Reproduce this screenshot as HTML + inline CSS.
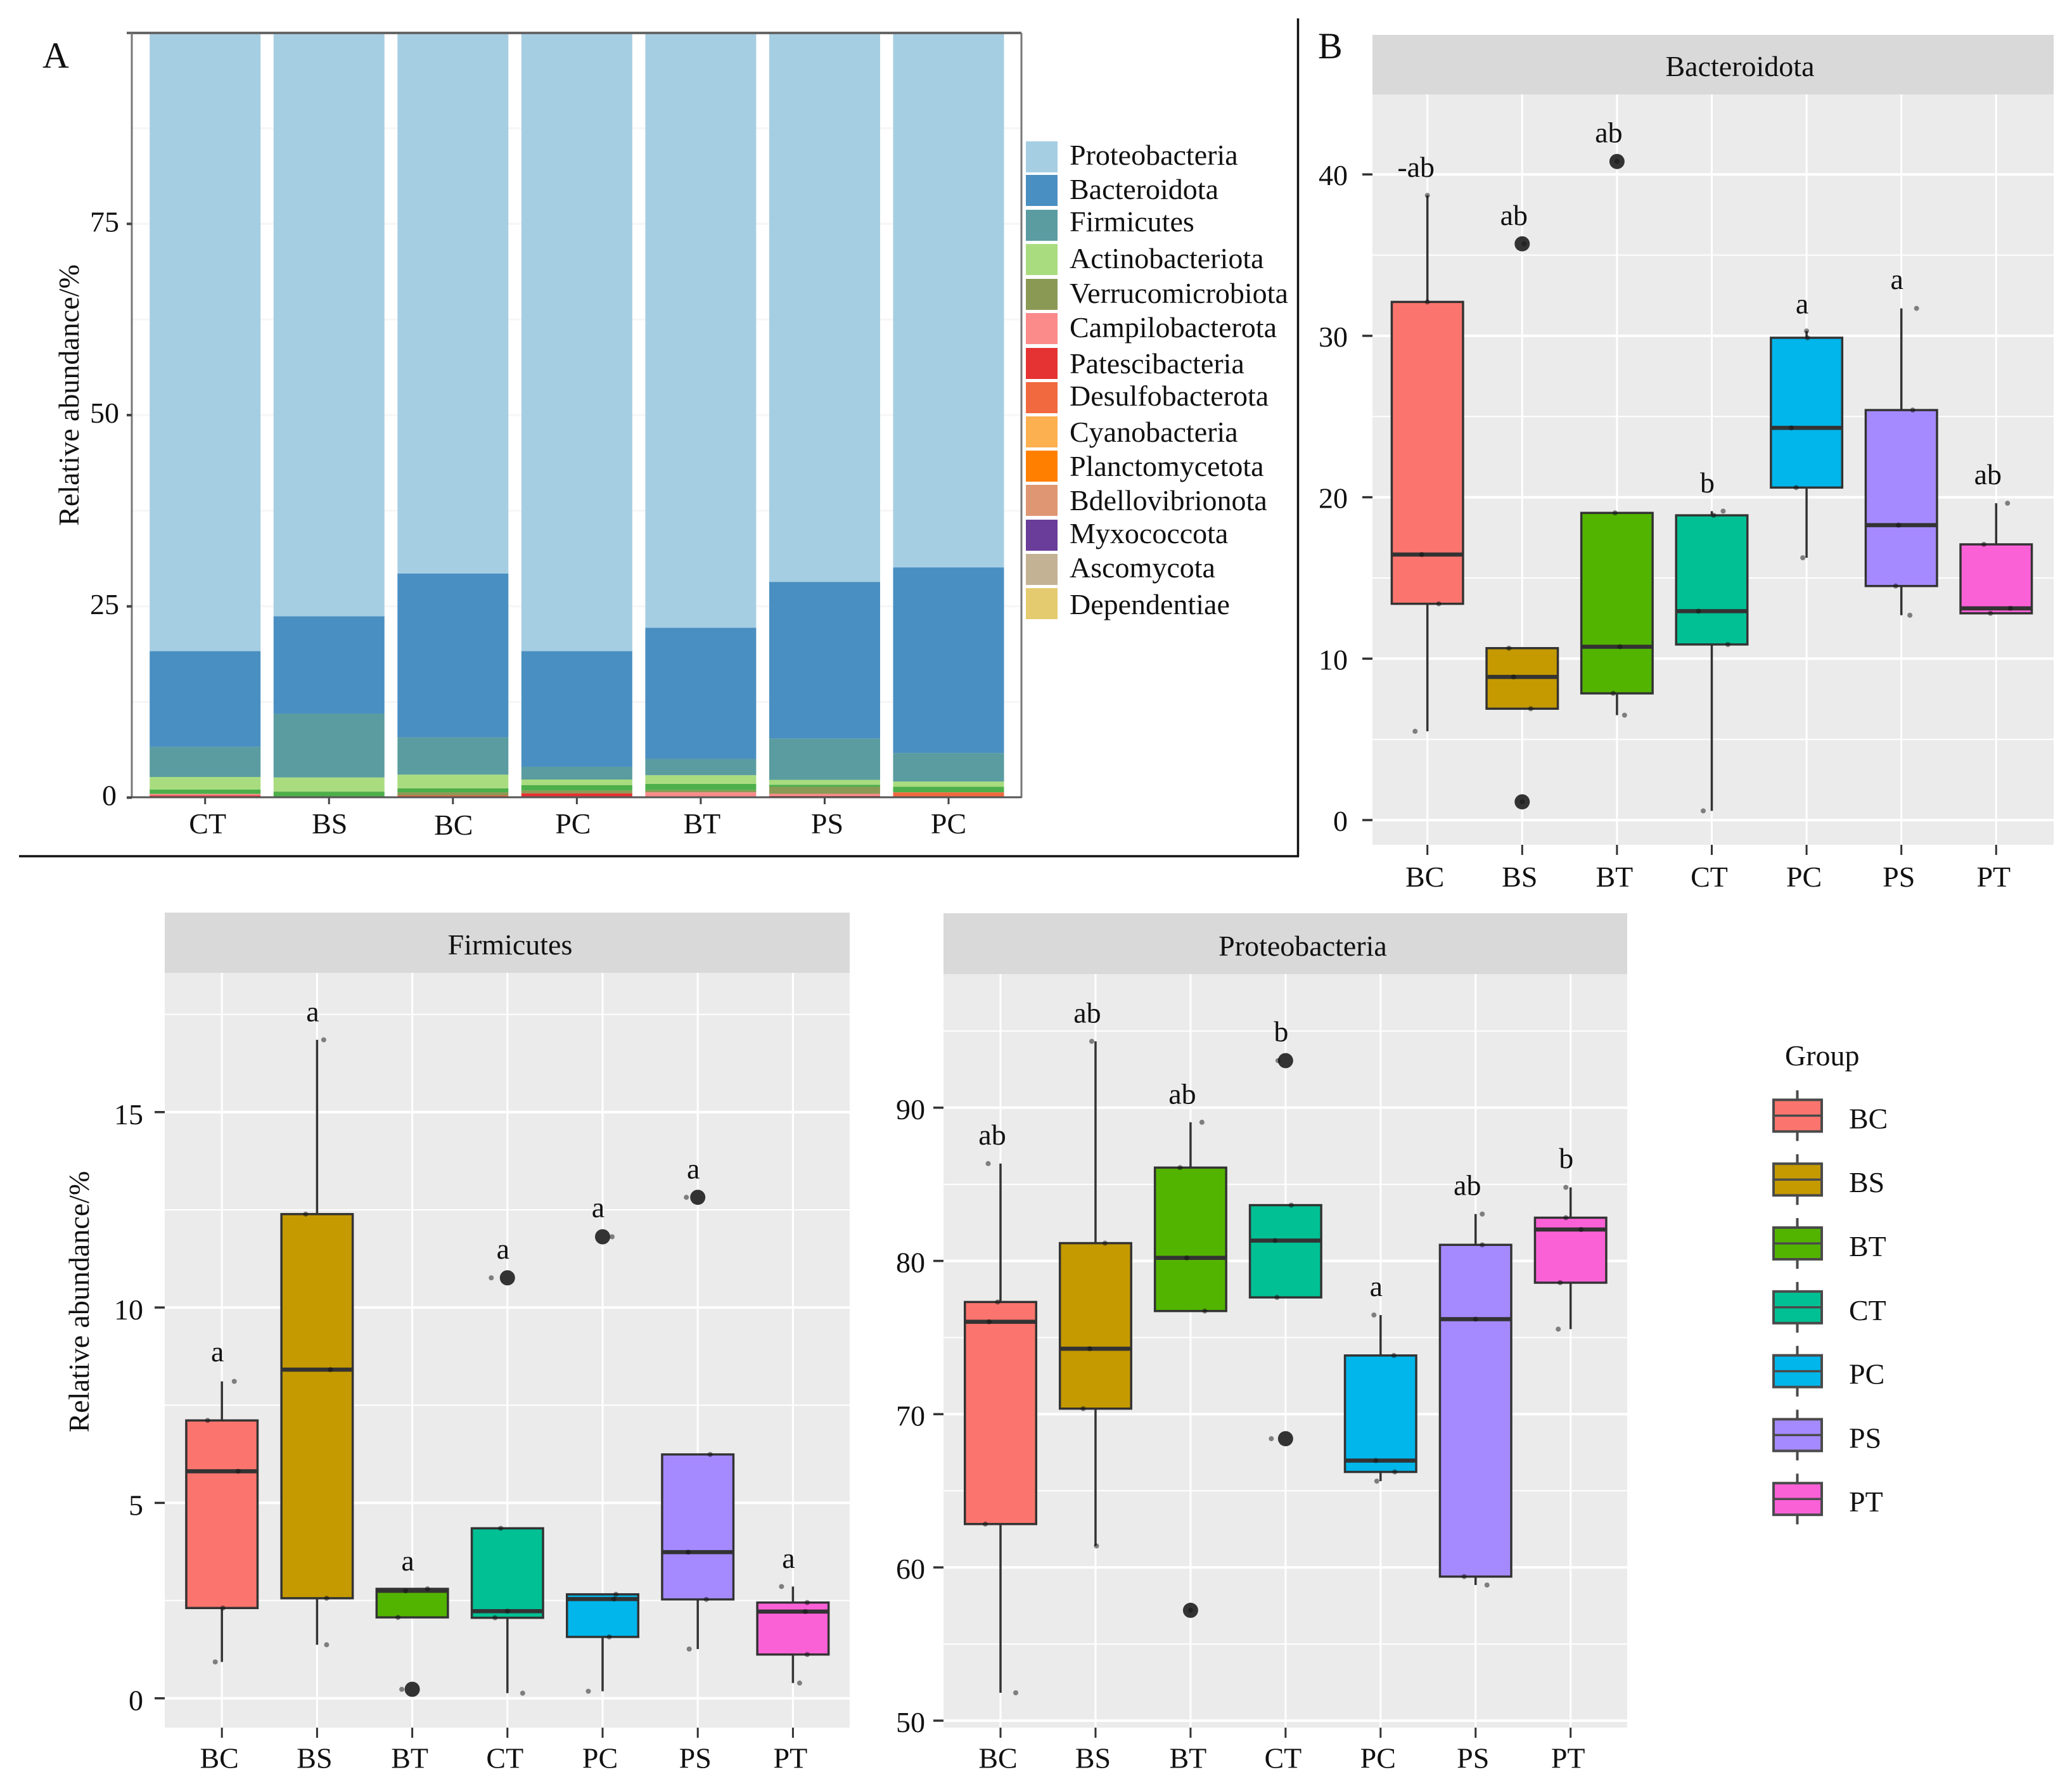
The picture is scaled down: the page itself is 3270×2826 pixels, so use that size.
<!DOCTYPE html>
<html lang="en">
<head>
<meta charset="utf-8">
<title>Relative abundance of bacterial phyla by group</title>
<style>
html,body{margin:0;padding:0;background:#fff;}
#figure{display:block;width:3270px;height:2826px;}
text{font-family:"Liberation Serif",serif;font-size:46px;fill:#111;}
</style>
</head>
<body>
<svg id="figure" xmlns="http://www.w3.org/2000/svg" width="3270" height="2826" viewBox="0 0 3270 2826">
  <rect width="3270" height="2826" fill="#ffffff"/>
  <g id="panel-a"></g>
  <g id="panel-b"></g>
  <g id="panel-f"></g>
  <g id="panel-p"></g>

  <line x1="30" y1="1351" x2="2050" y2="1351" stroke="#111" stroke-width="3.5"/>
  <line x1="2048.5" y1="29" x2="2048.5" y2="1352" stroke="#111" stroke-width="3.5"/>

  <text x="67" y="107" style="font-size:58px">A</text>
  <text x="2080" y="92" style="font-size:58px">B</text>

  <text transform="translate(124,623.5) rotate(-90)" text-anchor="middle">Relative abundance/%</text>
  <text transform="translate(140,2054) rotate(-90)" text-anchor="middle">Relative abundance/%</text>

  <g>
    <rect x="1619" y="223" width="50" height="49" fill="#a6cee3"/>
    <text x="1688" y="260">Proteobacteria</text>
    <rect x="1619" y="276" width="50" height="49" fill="#4a8fc1"/>
    <text x="1688" y="314">Bacteroidota</text>
    <rect x="1619" y="331" width="50" height="49" fill="#5a9ca0"/>
    <text x="1688" y="365">Firmicutes</text>
    <rect x="1619" y="385" width="50" height="49" fill="#a9dc7f"/>
    <text x="1688" y="423">Actinobacteriota</text>
    <rect x="1619" y="440" width="50" height="49" fill="#8a9a55"/>
    <text x="1688" y="478">Verrucomicrobiota</text>
    <rect x="1619" y="494" width="50" height="49" fill="#fb8a8a"/>
    <text x="1688" y="532">Campilobacterota</text>
    <rect x="1619" y="549" width="50" height="49" fill="#e53232"/>
    <text x="1688" y="589">Patescibacteria</text>
    <rect x="1619" y="603" width="50" height="49" fill="#f0693f"/>
    <text x="1688" y="640">Desulfobacterota</text>
    <rect x="1619" y="657" width="50" height="49" fill="#fdb050"/>
    <text x="1688" y="697">Cyanobacteria</text>
    <rect x="1619" y="711" width="50" height="49" fill="#ff8000"/>
    <text x="1688" y="751">Planctomycetota</text>
    <rect x="1619" y="765" width="50" height="49" fill="#df9673"/>
    <text x="1688" y="805">Bdellovibrionota</text>
    <rect x="1619" y="820" width="50" height="49" fill="#6a3d9a"/>
    <text x="1688" y="857">Myxococcota</text>
    <rect x="1619" y="874" width="50" height="49" fill="#c4b295"/>
    <text x="1688" y="911">Ascomycota</text>
    <rect x="1619" y="928" width="50" height="49" fill="#e5cb6f"/>
    <text x="1688" y="969">Dependentiae</text>
  </g>

  <text x="2817" y="1681">Group</text>
  <g id="group-legend"></g>
</svg>

<script>
// ---------- shared categories ----------
const categories = ['BC', 'BS', 'BT', 'CT', 'PC', 'PS', 'PT'];

// ---------- panel A: stacked bars ----------
const sampleLabels = ['CT', 'BS', 'BC', 'PC', 'BT', 'PS', 'PC'];
const stackTicks = [0, 25, 50, 75];
const proteobacteria = [80.85, 76.3, 70.7, 80.85, 77.8, 71.8, 69.9];
const bacteroidota = [12.51, 12.72, 21.42, 15.13, 17.15, 20.47, 24.27];
const firmicutes = [3.95, 8.35, 4.88, 1.66, 2.12, 5.41, 3.73];
const actinobacteriota = [1.63, 1.85, 1.78, 0.72, 1.13, 0.64, 0.69];
const unlabeledGreen = [0.58, 0.78, 0.52, 0.71, 0.83, 0.27, 0.72];
const verrucomicrobiota = [0, 0, 0.41, 0.37, 0.28, 0.91, 0];
const campilobacterota = [0.2, 0, 0, 0, 0.69, 0.28, 0];
const patescibacteria = [0.28, 0, 0, 0.56, 0, 0.22, 0];
const desulfobacterota = [0, 0, 0.29, 0, 0, 0, 0.69];

// ---------- Bacteroidota ----------
const bactTicks = [0, 10, 20, 30, 40];
const bactMinor = [5, 15, 25, 35];
const bactQ1 = [13.4, 6.9, 7.85, 10.88, 20.6, 14.5, 12.81];
const bactMedian = [16.45, 8.87, 10.74, 12.94, 24.3, 18.27, 13.12];
const bactQ3 = [32.1, 10.65, 19.03, 18.88, 29.88, 25.4, 17.08];
const bactLow = [5.5, null, 6.5, 0.57, 16.25, 12.69, null];
const bactHigh = [38.7, null, null, 19.14, 30.3, 31.7, 19.63];
const bactOutliers = [[], [35.7, 1.13], [40.8], [], [], [], []];
const bactPoints = [[38.7, 32.1, 16.45, 13.4, 5.5], [35.7, 10.65, 8.87, 6.9, 1.13], [40.8, 19.03, 10.74, 7.85, 6.5], [19.14, 18.88, 12.94, 10.88, 0.57], [30.3, 29.88, 24.3, 20.6, 16.25], [31.7, 25.4, 18.27, 14.5, 12.69], [19.63, 17.08, 13.12, 12.81]];
const bactJitter = [[0, 0, -0.06, 0.12, -0.13], [0.02, -0.14, -0.09, 0.09, 0], [0, -0.02, 0.03, -0.04, 0.08], [0.12, 0.02, -0.14, 0.17, -0.09], [0, 0.01, -0.16, -0.11, -0.04], [0.16, 0.12, -0.03, -0.06, 0.09], [0.12, -0.13, 0.15, -0.06]];
const bactLetters = ['-ab', 'ab', 'ab', 'b', 'a', 'a', 'ab'];
const bactLetterValues = [39.85, 36.87, 41.99, 20.3, 31.39, 32.9, 20.8];

// ---------- Firmicutes ----------
const firmTicks = [0, 5, 10, 15];
const firmMinor = [2.5, 7.5, 12.5, 17.5];
const firmQ1 = [2.31, 2.56, 2.07, 2.06, 1.57, 2.53, 1.12];
const firmMedian = [5.81, 8.41, 2.75, 2.23, 2.54, 3.74, 2.22];
const firmQ3 = [7.11, 12.39, 2.8, 4.35, 2.66, 6.24, 2.45];
const firmLow = [0.93, 1.37, null, 0.13, 0.18, 1.26, 0.39];
const firmHigh = [8.11, 16.85, null, null, null, null, 2.86];
const firmOutliers = [[], [], [0.23], [10.76], [11.81], [12.82], []];
const firmPoints = [[8.11, 7.11, 5.81, 2.31, 0.93], [16.85, 12.39, 8.41, 2.56, 1.37], [2.8, 2.75, 2.07, 0.23], [10.76, 4.35, 2.23, 2.06, 0.13], [11.81, 2.66, 2.54, 1.57, 0.18], [12.82, 6.24, 3.74, 2.53, 1.26], [2.86, 2.45, 2.22, 1.12, 0.39]];
const firmJitter = [[0.13, -0.15, 0.17, 0.01, -0.07], [0.07, -0.12, 0.14, 0.1, 0.1], [0.16, -0.07, -0.15, -0.11], [-0.17, -0.07, 0, -0.13, 0.16], [0.1, 0.14, 0.12, 0.07, -0.15], [-0.12, 0.13, -0.1, 0.09, -0.09], [-0.12, 0.15, 0.13, 0.15, 0.07]];
const firmLetters = ['a', 'a', 'a', 'a', 'a', 'a', 'a'];
const firmLetterValues = [8.62, 17.32, 3.27, 11.25, 12.31, 13.3, 3.34];

// ---------- Proteobacteria ----------
const protTicks = [50, 60, 70, 80, 90];
const protMinor = [55, 65, 75, 85, 95];
const protQ1 = [62.83, 70.36, 76.73, 77.62, 66.23, 59.4, 78.58];
const protMedian = [76.03, 74.27, 80.2, 81.33, 66.97, 76.2, 82.05];
const protQ3 = [77.32, 81.16, 86.09, 83.64, 73.83, 81.05, 82.82];
const protLow = [51.82, 61.4, null, null, 65.63, 58.85, 75.55];
const protHigh = [86.35, 94.33, 89.05, null, 76.47, 83.06, 84.8];
const protOutliers = [[], [], [57.2], [93.07, 68.4], [], [], []];
const protPoints = [[86.35, 77.32, 76.03, 62.83, 51.82], [94.33, 81.16, 74.27, 70.36, 61.4], [89.05, 86.09, 80.2, 76.73, 57.2], [93.07, 83.64, 81.33, 77.62, 68.4], [76.47, 73.83, 66.97, 66.23, 65.63], [83.06, 81.05, 76.2, 59.4, 58.85], [84.8, 82.82, 82.05, 78.58, 75.55]];
const protJitter = [[-0.13, -0.03, -0.12, -0.16, 0.16], [-0.04, 0.1, -0.06, -0.13, 0.01], [0.12, -0.11, -0.04, 0.15, 0], [-0.08, 0.06, -0.11, -0.09, -0.15], [-0.07, 0.14, -0.05, 0.15, -0.04], [0.07, 0.07, 0, -0.12, 0.12], [-0.05, -0.05, 0.11, -0.11, -0.13]];
const protLetters = ['ab', 'ab', 'ab', 'b', 'a', 'ab', 'b'];
const protLetterValues = [87.59, 95.56, 90.27, 94.33, 77.71, 84.3, 86.06];

// ---------- drawing ----------
const NS = 'http://www.w3.org/2000/svg';
const groupColor = {BC: '#fb756e', BS: '#c49a00', BT: '#53b400', CT: '#00c094', PC: '#00b6eb', PS: '#a58aff', PT: '#fb61d7'};

function make(tag, parent, attrs, content) {
  const node = document.createElementNS(NS, tag);
  for (const key in attrs) node.setAttribute(key, attrs[key]);
  if (content !== undefined) node.textContent = content;
  parent.appendChild(node);
  return node;
}

function drawStackedBars() {
  const root = document.getElementById('panel-a');
  const yOf = v => 1258.5 - v * 12.07;
  const xOf = i => 323.7 + i * 195.55;
  const barWidth = 175;
  for (let v = 12.5; v < 100; v += 12.5) {
    const grid = make('line', root, {x1: 208, x2: 1612, y1: yOf(v), y2: yOf(v), stroke: '#f6f6f6', 'stroke-width': 3});
    
    
  }
  const stack = [
    ['desulfobacterota', desulfobacterota, '#f0693f'],
    ['patescibacteria', patescibacteria, '#e53232'],
    ['campilobacterota', campilobacterota, '#fb8a8a'],
    ['verrucomicrobiota', verrucomicrobiota, '#8a9a55'],
    ['green-group', unlabeledGreen, '#4daf4a'],
    ['actinobacteriota', actinobacteriota, '#a9dc7f'],
    ['firmicutes', firmicutes, '#5a9ca0'],
    ['bacteroidota', bacteroidota, '#4a8fc1'],
    ['proteobacteria', proteobacteria, '#a6cee3']
  ];
  sampleLabels.forEach((label, i) => {
    let base = 0;
    stack.forEach(layer => {
      const value = layer[1][i];
      if (value > 0) {
        const seg = make('rect', root, {x: xOf(i) - barWidth / 2, width: barWidth, y: yOf(base + value), height: yOf(base) - yOf(base + value), fill: layer[2]});
        
        
      }
      base += value;
    });
    const tick = make('line', root, {x1: xOf(i), x2: xOf(i), y1: 1258, y2: 1269, stroke: '#444', 'stroke-width': 3});
    
    
    const shift = [4, 1, 1, -6, 2, 4, 0][i];
    const text = make('text', root, {x: xOf(i) + shift, y: i === 2 ? 1317 : 1315, 'text-anchor': 'middle'}, label);
    
    
  });
  const axisTop = make('line', root, {x1: 200, x2: 1612, y1: 52, y2: 52, stroke: '#666', 'stroke-width': 4});
  
  
  const axisLeft = make('line', root, {x1: 208, x2: 208, y1: 52, y2: 1259, stroke: '#777', 'stroke-width': 3});
  
  
  const axisRight = make('line', root, {x1: 1612, x2: 1612, y1: 52, y2: 1259, stroke: '#777', 'stroke-width': 3});
  
  
  const axisBottom = make('line', root, {x1: 200, x2: 1612, y1: 1258, y2: 1258, stroke: '#555', 'stroke-width': 3});
  
  
  stackTicks.forEach(v => {
    const tick = make('line', root, {x1: 200, x2: 208, y1: yOf(v), y2: yOf(v), stroke: '#444', 'stroke-width': 4});
    
    
    const text = make('text', root, {x: v === 0 ? 184 : 188, y: yOf(v) + 12, 'text-anchor': 'end'}, String(v));
    
    
  });
}

function drawBoxPanel(cfg) {
  const root = document.getElementById(cfg.id);
  const yOf = v => cfg.refY - (v - cfg.refValue) * cfg.pxPerUnit;
  const xOf = i => cfg.firstX + i * cfg.stepX;
  const boxWidth = 112.5;

  const strip = make('rect', root, {x: cfg.left, y: cfg.stripTop, width: cfg.right - cfg.left, height: cfg.top - cfg.stripTop, fill: '#d9d9d9'});
  
  
  const stripText = make('text', root, {x: cfg.titleX, y: cfg.titleY, 'text-anchor': 'middle'}, cfg.title);
  
  
  const bg = make('rect', root, {x: cfg.left, y: cfg.top, width: cfg.right - cfg.left, height: cfg.bottom - cfg.top, fill: '#ebebeb'});
  
  

  cfg.minor.forEach(v => {
    const grid = make('line', root, {x1: cfg.left, x2: cfg.right, y1: yOf(v), y2: yOf(v), stroke: '#fff', 'stroke-width': 2});
    
    
  });
  cfg.ticks.forEach(v => {
    const grid = make('line', root, {x1: cfg.left, x2: cfg.right, y1: yOf(v), y2: yOf(v), stroke: '#fff', 'stroke-width': 4});
    
    
    const tick = make('line', root, {x1: cfg.left - 16, x2: cfg.left, y1: yOf(v), y2: yOf(v), stroke: '#333', 'stroke-width': 3.5});
    
    
    const text = make('text', root, {x: cfg.labelX, y: yOf(v) + cfg.labelDrop, 'text-anchor': 'end'}, String(v));
    
    
  });

  categories.forEach((cat, i) => {
    const x = xOf(i);
    const slug = cfg.key + '-' + cat.toLowerCase();
    const grid = make('line', root, {x1: x, x2: x, y1: cfg.top, y2: cfg.bottom, stroke: '#fff', 'stroke-width': 3});
    
    
    const tick = make('line', root, {x1: x, x2: x, y1: cfg.bottom, y2: cfg.bottom + 16, stroke: '#333', 'stroke-width': 3});
    
    
    const text = make('text', root, {x: x - 4, y: cfg.xLabelY, 'text-anchor': 'middle'}, cat);
    
    

    if (cfg.high[i] !== null) {
      const wh = make('line', root, {x1: x, x2: x, y1: yOf(cfg.q3[i]), y2: yOf(cfg.high[i]), stroke: '#333', 'stroke-width': 3.5});
      
      
    }
    if (cfg.low[i] !== null) {
      const wl = make('line', root, {x1: x, x2: x, y1: yOf(cfg.q1[i]), y2: yOf(cfg.low[i]), stroke: '#333', 'stroke-width': 3.5});
      
      
    }
    const box = make('rect', root, {x: x - boxWidth / 2, width: boxWidth, y: yOf(cfg.q3[i]), height: yOf(cfg.q1[i]) - yOf(cfg.q3[i]), fill: groupColor[cat], stroke: '#333', 'stroke-width': 3.5});
    
    
    const med = make('line', root, {x1: x - boxWidth / 2, x2: x + boxWidth / 2, y1: yOf(cfg.median[i]), y2: yOf(cfg.median[i]), stroke: '#333', 'stroke-width': 6.5});
    
    

    cfg.outliers[i].forEach(v => {
      const dot = make('circle', root, {cx: x, cy: yOf(v), r: 12, fill: '#333'});
      
      
    });
    cfg.points[i].forEach((v, j) => {
      const dot = make('circle', root, {cx: x + cfg.jitter[i][j] * cfg.stepX, cy: yOf(v), r: 4, fill: '#111', 'fill-opacity': 0.5});
      
      
    });

    const letter = cfg.letters[i];
    const shift = letter.length === 3 ? -18 : letter.length === 2 ? -13 : -7;
    const mark = make('text', root, {x: x + shift, y: yOf(cfg.letterValues[i]), 'text-anchor': 'middle'}, letter);
    
    
  });
}

function drawGroupLegend() {
  const root = document.getElementById('group-legend');
  categories.forEach((cat, i) => {
    const cy = 1760.4 + i * 100.8;
    const slug = 'group-legend-' + cat.toLowerCase();
    const whisker = make('line', root, {x1: 2836.5, x2: 2836.5, y1: cy - 40, y2: cy + 40, stroke: '#4a4a4a', 'stroke-width': 4});
    
    
    const box = make('rect', root, {x: 2799, y: cy - 25, width: 76, height: 50, fill: groupColor[cat], stroke: '#4a4a4a', 'stroke-width': 4});
    
    
    const med = make('line', root, {x1: 2799, x2: 2875, y1: cy, y2: cy, stroke: '#4a4a4a', 'stroke-width': 3.5});
    
    
    const text = make('text', root, {x: 2918, y: cy + 20}, cat);
    
    
  });
}

drawStackedBars();

drawBoxPanel({
  id: 'panel-b', key: 'bacteroidota', title: 'Bacteroidota',
  left: 2166, right: 3241, top: 149, bottom: 1333, stripTop: 55, titleX: 2746, titleY: 120,
  firstX: 2252.7, stepX: 149.6, refValue: 0, refY: 1294, pxPerUnit: 25.47,
  labelX: 2127, labelDrop: 17, xLabelY: 1399,
  ticks: bactTicks, minor: bactMinor, q1: bactQ1, median: bactMedian, q3: bactQ3, low: bactLow, high: bactHigh,
  outliers: bactOutliers, points: bactPoints, jitter: bactJitter, letters: bactLetters, letterValues: bactLetterValues
});

drawBoxPanel({
  id: 'panel-f', key: 'firmicutes', title: 'Firmicutes',
  left: 260, right: 1341, top: 1535, bottom: 2726, stripTop: 1440, titleX: 805, titleY: 1506,
  firstX: 350.2, stepX: 150.2, refValue: 0, refY: 2679.7, pxPerUnit: 61.66,
  labelX: 226, labelDrop: 19, xLabelY: 2789.5,
  ticks: firmTicks, minor: firmMinor, q1: firmQ1, median: firmMedian, q3: firmQ3, low: firmLow, high: firmHigh,
  outliers: firmOutliers, points: firmPoints, jitter: firmJitter, letters: firmLetters, letterValues: firmLetterValues
});

drawBoxPanel({
  id: 'panel-p', key: 'proteobacteria', title: 'Proteobacteria',
  left: 1489, right: 2568, top: 1537, bottom: 2726, stripTop: 1441, titleX: 2056, titleY: 1508,
  firstX: 1579, stepX: 149.95, refValue: 80, refY: 1989.6, pxPerUnit: 24.18,
  labelX: 1460, labelDrop: 18, xLabelY: 2789.5,
  ticks: protTicks, minor: protMinor, q1: protQ1, median: protMedian, q3: protQ3, low: protLow, high: protHigh,
  outliers: protOutliers, points: protPoints, jitter: protJitter, letters: protLetters, letterValues: protLetterValues
});

drawGroupLegend();
</script>
</body>
</html>
